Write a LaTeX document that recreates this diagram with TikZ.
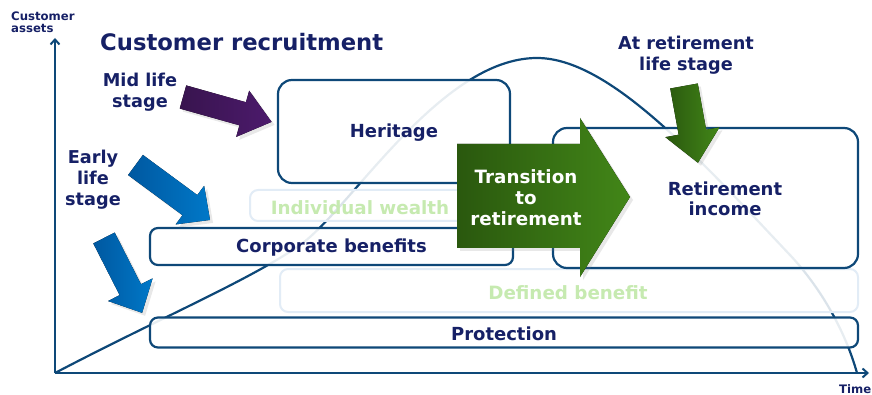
\documentclass[tikz,border=0pt]{standalone}
\usepackage{fontspec}
\setmainfont{DejaVu Sans}
\usetikzlibrary{shadows,arrows.meta}
\definecolor{boxline}{RGB}{14,72,120}
\definecolor{navytext}{RGB}{22,32,102}
\definecolor{fadeline}{RGB}{226,236,246}
\definecolor{fadetext}{RGB}{198,234,176}
\definecolor{purpA}{RGB}{56,20,78}
\definecolor{purpB}{RGB}{76,26,108}
\definecolor{bluA}{RGB}{0,88,160}
\definecolor{bluB}{RGB}{0,120,200}
\definecolor{grnA}{RGB}{42,88,14}
\definecolor{grnB}{RGB}{66,134,24}
\tikzset{
  mainbox/.style={draw=boxline, line width=2.2pt, fill=white, fill opacity=0.9, draw opacity=1},
  fadebox/.style={draw=fadeline, line width=2pt, fill=white, fill opacity=0.85},
  boxlabel/.style={font=\bfseries\fontsize{18}{20}\selectfont, text=navytext, align=center, text opacity=1},
  fadelabel/.style={font=\bfseries\fontsize{18.3}{20}\selectfont, text=fadetext},
  stagelabel/.style={font=\bfseries\fontsize{17.7}{21}\selectfont, text=navytext, align=center},
  axisline/.style={draw=boxline, line width=2pt},
  arrowshadow/.style={drop shadow={shadow xshift=3pt, shadow yshift=-3pt, opacity=0.18}},
}
\newcommand{\fatarrowpath}[4]{% length, half body, half head, head length
  (0,-#2) -- ({#1-#4},-#2) -- ({#1-#4},-#3) -- (#1,0) -- ({#1-#4},#3) -- ({#1-#4},#2) -- (0,#2) -- cycle}
\begin{document}
\begin{tikzpicture}[x=1pt, y=-1pt]
\useasboundingbox (0,0) rectangle (872,395);
% axes
\coordinate (O) at (55,373);
\coordinate (Ytop) at (55,38);
\coordinate (Xend) at (869,373);
\draw[axisline, -{Straight Barb[length=5pt, width=9pt]}] (O) -- (Ytop);
\draw[axisline, -{Straight Barb[length=5pt, width=9pt]}] (O) -- (Xend);
\node[anchor=west, font=\bfseries\fontsize{11.7}{12.5}\selectfont, text=navytext, align=left, inner sep=0pt] (ya) at (11,22) {Customer\\assets};
\node[anchor=west, font=\bfseries\fontsize{11.7}{12.5}\selectfont, text=navytext, inner sep=0pt] (xa) at (839,389) {Time};
% title
\node[anchor=west, font=\bfseries\fontsize{22.7}{25}\selectfont, text=navytext, inner sep=0pt] (title) at (100,42) {Customer recruitment};
% curve
\draw[boxline, line width=2.2pt] (55,373) .. controls (160,318) and (250,280) .. (300,245)
  .. controls (350,210) and (440,58) .. (537,58)
  .. controls (610,58) and (700,160) .. (790,255)
  .. controls (820,287) and (845,330) .. (857,373);
% faded boxes
\draw[fadebox, rounded corners=8pt] (250,190) rectangle (470,221);
\node[fadelabel] (iw) at (360,208) {Individual wealth};
\draw[fadebox, rounded corners=8pt] (280,269) rectangle (858,312);
\node[fadelabel] (db) at (568,293) {Defined benefit};
% main boxes
\node[mainbox, rounded corners=14pt, minimum width=232pt, minimum height=103pt] (her) at (394,131.5) {};
\node[boxlabel] at ([yshift=-1.5pt]her.center) {Heritage};
\node[mainbox, rounded corners=8pt, minimum width=363pt, minimum height=37pt] (corp) at (331.5,246.5) {};
\node[boxlabel] at ([yshift=-1.5pt]corp.center) {Corporate benefits};
\node[mainbox, rounded corners=14pt, minimum width=305pt, minimum height=140pt] (ret) at (705.5,198) {};
\node[boxlabel] at (725,198.5) {Retirement\\income};
\node[mainbox, rounded corners=8pt, minimum width=708pt, minimum height=30pt] (prot) at (504,332.5) {};
\node[boxlabel] at ([yshift=-1pt]prot.center) {Protection};
% transition arrow
\fill[arrowshadow, left color=grnA, right color=grnB] (457,144) -- (580,144) -- (580,118) -- (630,197) -- (580,277) -- (580,248) -- (457,248) -- cycle;
\node[font=\bfseries\fontsize{18.3}{21}\selectfont, text=white, align=center] (tr) at (526,198) {Transition\\to\\retirement};
% stage arrows
\begin{scope}[shift={(183,97)}, rotate=-15.7]
\fill[arrowshadow, left color=purpA, right color=purpB] \fatarrowpath{92}{12}{24}{30};
\end{scope}
\begin{scope}[shift={(135.5,165)}, rotate=-36.4]
\fill[arrowshadow, left color=bluA, right color=bluB] \fatarrowpath{92.6}{12.5}{24}{25};
\end{scope}
\begin{scope}[shift={(104,238)}, rotate=-63]
\fill[arrowshadow, left color=bluA, right color=bluB] \fatarrowpath{84}{12}{25}{26};
\end{scope}
\begin{scope}[shift={(684,86)}, rotate=-79.7]
\fill[arrowshadow, left color=grnA, right color=grnB] \fatarrowpath{78}{14}{27.5}{31};
\end{scope}
% stage labels
\node[stagelabel] (mid) at (140,92) {Mid life\\stage};
\node[stagelabel] (early) at (93,180) {Early\\life\\stage};
\node[stagelabel] (atr) at (686,55) {At retirement\\life stage};
\end{tikzpicture}
\end{document}
